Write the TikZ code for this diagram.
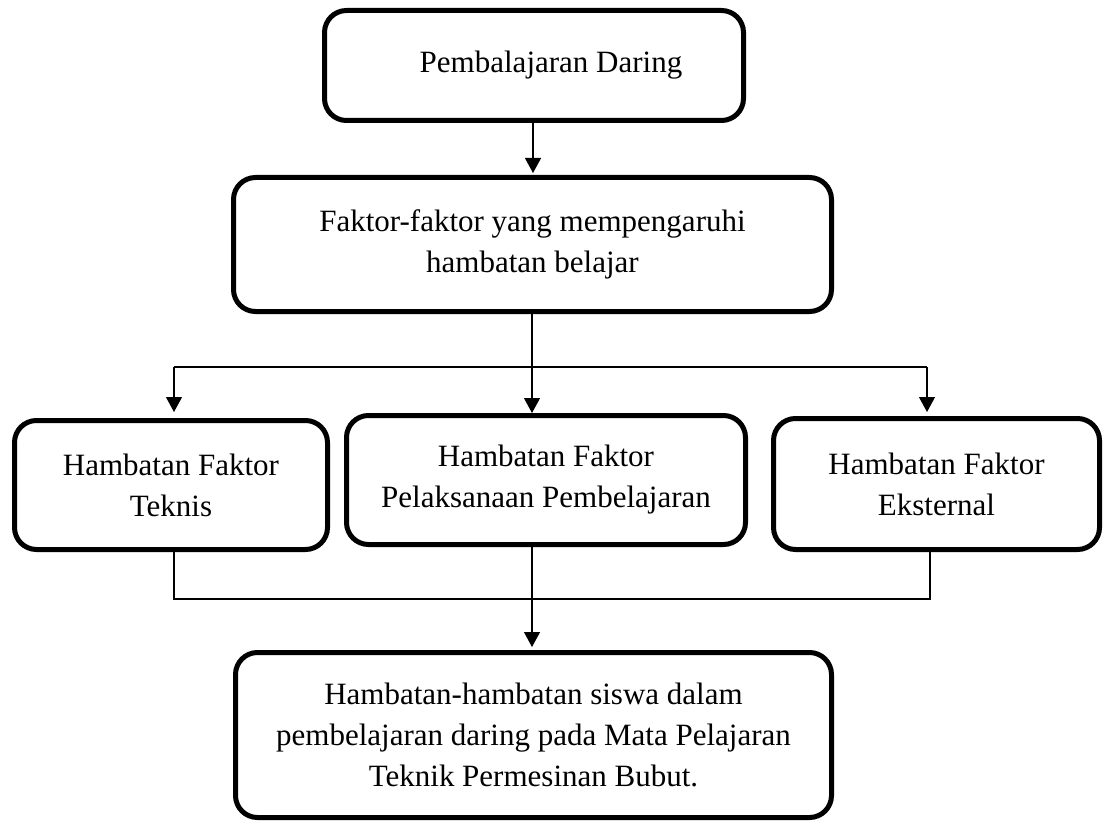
\documentclass[tikz,border=0pt]{standalone}
\usepackage{fontspec}
\setmainfont{Liberation Serif}
\usetikzlibrary{arrows.meta}
\begin{document}
\begin{tikzpicture}[x=1pt,y=-1pt,
  box/.style={draw=black, line width=5pt, rounded corners=22pt, align=center,
    font=\fontsize{31}{41}\selectfont, inner sep=0pt},
  conn/.style={draw=black, line width=1.2pt},
  arr/.style={conn, -{Triangle[length=15pt,width=16pt]}}]
\useasboundingbox (0,0) rectangle (1105,821);
\fill[white] (0,0) rectangle (1105,821);

\node[box, minimum width=419pt, minimum height=110pt] (daring) at (534,65.5) {\hspace*{34pt}Pembalajaran Daring};
\node[box, minimum width=598pt, minimum height=134pt] (faktor) at (532.5,244.5) {Faktor-faktor yang mempengaruhi\\hambatan belajar};
\node[box, minimum width=313pt, minimum height=129pt] (teknis) at (171,485) {Hambatan Faktor\\Teknis};
\node[box, minimum width=399pt, minimum height=129pt] (pelaks) at (546,480) {Hambatan Faktor\\Pelaksanaan Pembelajaran};
\node[box, minimum width=326pt, minimum height=131pt] (eksternal) at (936.5,484) {Hambatan Faktor\\Eksternal};
\node[box, minimum width=596pt, minimum height=165pt] (hasil) at (533.5,735) {Hambatan-hambatan siswa dalam\\pembelajaran daring pada Mata Pelajaran\\Teknik Permesinan Bubut.};

% top connectors
\draw[arr, shorten >=2pt] (533,0 |- daring.south) -- (533,0 |- faktor.north);
\coordinate (jl) at (174,367);
\coordinate (jr) at (927,367);
\draw[arr] (532,0 |- faktor.south) -- (532,0 |- pelaks.north);
\draw[conn] (jl) -- (jr);
\draw[arr, shorten >=6pt] (jl) -- (jl |- teknis.north);
\draw[arr, shorten >=4pt] (jr) -- (jr |- eksternal.north);

% bottom connectors
\coordinate (bl) at (174,599);
\coordinate (br) at (930,599);
\draw[conn] (bl |- teknis.south) -- (bl) -- (br) -- (br |- eksternal.south);
\draw[arr, shorten >=3pt] (532,0 |- pelaks.south) -- (532,0 |- hasil.north);
\end{tikzpicture}
\end{document}
